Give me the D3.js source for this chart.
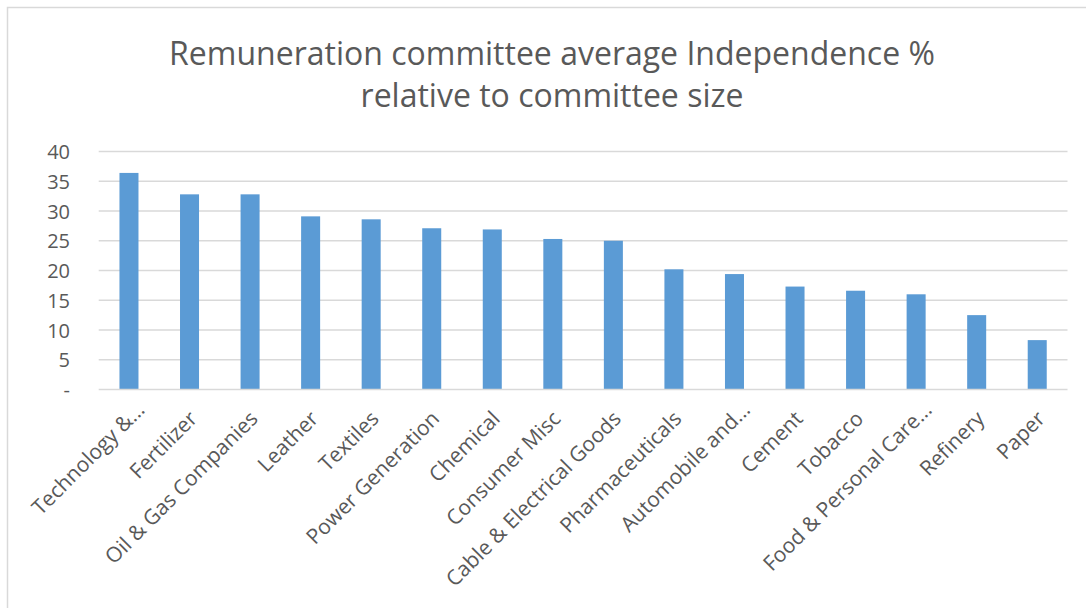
<!DOCTYPE html>
<html>
<head>
<meta charset="utf-8">
<script src="https://cdn.jsdelivr.net/npm/d3@7"></script>
<style>
  html, body { margin: 0; padding: 0; background: #ffffff; }
  svg { display: block; }
  text { font-family: "Open Sans", "Noto Sans", sans-serif; fill: #595959; }
</style>
</head>
<body>
<svg id="chart" width="1086" height="608"></svg>
<script>
// Sectors, ordered as plotted
const categories = [
  "Technology &...", "Fertilizer", "Oil & Gas Companies", "Leather", "Textiles",
  "Power Generation", "Chemical", "Consumer Misc", "Cable & Electrical Goods",
  "Pharmaceuticals", "Automobile and...", "Cement", "Tobacco",
  "Food & Personal Care...", "Refinery", "Paper"
];
// Average independence % relative to committee size
const values = [36.4, 32.8, 32.8, 29.1, 28.6, 27.1, 26.9, 25.3, 25.0, 20.2, 19.4, 17.3, 16.6, 16.0, 12.5, 8.3];
const yTicks = [0, 5, 10, 15, 20, 25, 30, 35, 40];
const yTickLabels = ["-", "5", "10", "15", "20", "25", "30", "35", "40"];
const titleLines = ["Remuneration committee average Independence %", "relative to committee size"];

const svg = d3.select("#chart");
const W = 1086, H = 608;

// chart frame
svg.append("rect")
  .attr("x", 7.5).attr("y", 7.5)
  .attr("width", W + 10).attr("height", H + 10)
  .attr("fill", "#ffffff").attr("stroke", "#d9d9d9").attr("stroke-width", 1.5);

const plot = { left: 98.7, right: 1067.5, top: 151.5, bottom: 389.5 };

const x = d3.scaleBand()
  .domain(categories)
  .range([plot.left, plot.right])
  .paddingInner(0.686)
  .paddingOuter(0.343);

const y = d3.scaleLinear().domain([0, 40]).range([plot.bottom, plot.top]);

// horizontal gridlines
svg.append("g")
  .selectAll("line")
  .data(yTicks.filter(d => d > 0))
  .join("line")
  .attr("x1", plot.left).attr("x2", plot.right)
  .attr("y1", d => y(d)).attr("y2", d => y(d))
  .attr("stroke", "#d9d9d9").attr("stroke-width", 1.5);

// bars
svg.append("g")
  .selectAll("rect")
  .data(values)
  .join("rect")
  .attr("x", (d, i) => x(categories[i]))
  .attr("y", d => y(d))
  .attr("width", x.bandwidth())
  .attr("height", d => y(0) - y(d))
  .attr("fill", "#5b9bd5");

// category axis baseline
svg.append("line")
  .attr("x1", plot.left).attr("x2", plot.right)
  .attr("y1", y(0)).attr("y2", y(0))
  .attr("stroke", "#d9d9d9").attr("stroke-width", 1.5);

// value axis labels
const yAxis = d3.axisLeft(y)
  .tickValues(yTicks)
  .tickSize(0)
  .tickPadding(0)
  .tickFormat((d, i) => yTickLabels[i]);
const gy = svg.append("g").attr("transform", "translate(70,0)").call(yAxis);
gy.select(".domain").remove();
gy.selectAll("text")
  .attr("font-family", null)
  .style("font-size", "20px")
  .attr("dy", "0.35em");

// rotated category labels; truncated names sit a little further along their baseline
svg.append("g")
  .selectAll("text")
  .data(categories)
  .join("text")
  .attr("transform", d => {
    const cx = x(d) + x.bandwidth() / 2;
    const cut = d.endsWith("...");
    return `translate(${cx + (cut ? 17 : 9)},${cut ? 411 : 420}) rotate(-45)`;
  })
  .attr("text-anchor", "end")
  .style("font-size", "21px")
  .text(d => d);

// title
svg.append("g")
  .selectAll("text")
  .data(titleLines)
  .join("text")
  .attr("x", 552)
  .attr("y", (d, i) => 65 + i * 42)
  .attr("text-anchor", "middle")
  .style("font-size", "32px")
  .text(d => d);
</script>
</body>
</html>
